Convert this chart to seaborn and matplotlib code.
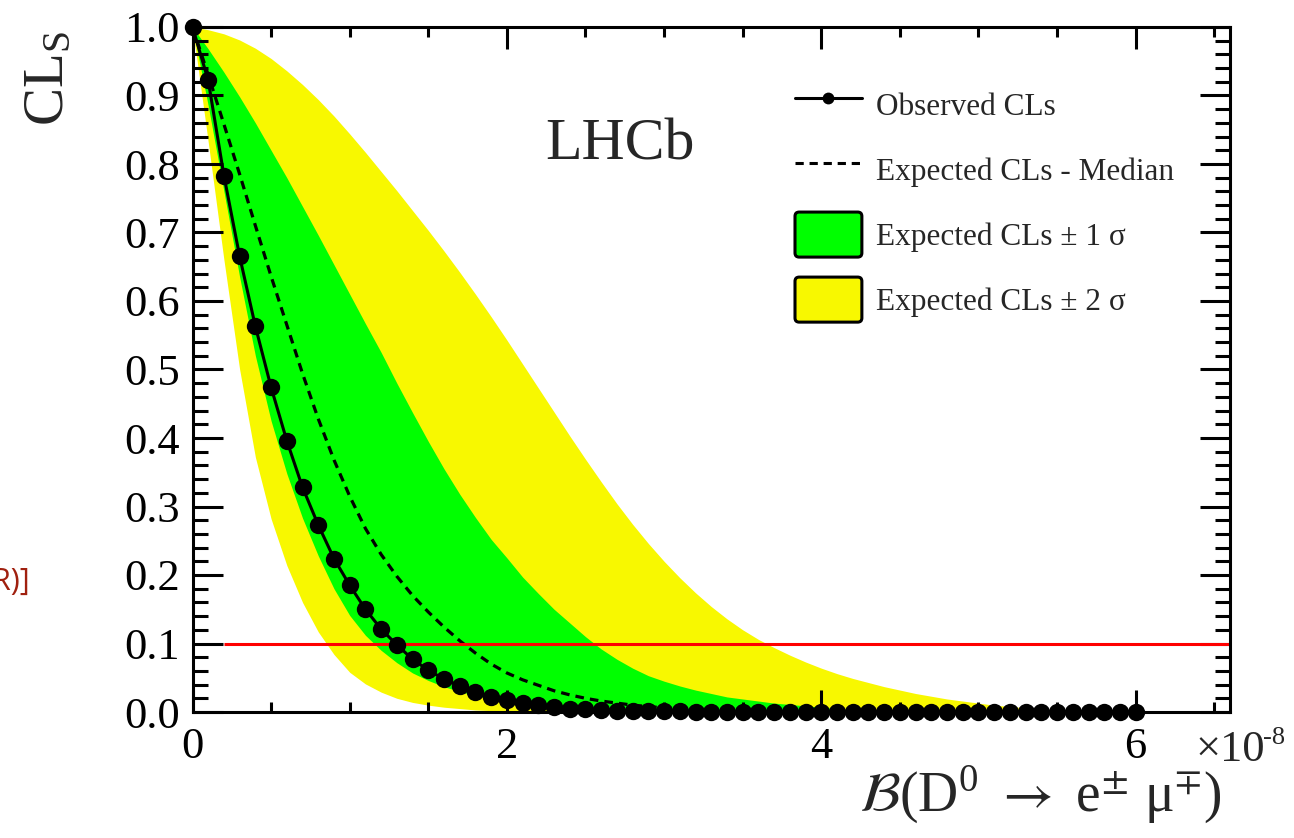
import numpy as np
import pandas as pd
import matplotlib
matplotlib.use("Agg")
import matplotlib.pyplot as plt
import seaborn as sns
from matplotlib.lines import Line2D
from matplotlib.patches import Patch, FancyBboxPatch
from matplotlib.legend_handler import HandlerPatch

# Branching-fraction scan points (units of 1e-8)
br_points = np.round(np.arange(0.0, 6.01, 0.1), 1)

cls_observed = [
    1.000, 0.922, 0.783, 0.665, 0.563, 0.474, 0.396, 0.328, 0.273, 0.224,
    0.185, 0.150, 0.121, 0.098, 0.077, 0.061, 0.048, 0.038, 0.029, 0.022,
    0.017, 0.013, 0.010, 0.007, 0.005, 0.004, 0.003, 0.002, 0.002, 0.001,
    0.001, 0.001, 0.000, 0.000, 0.000, 0.000, 0.000, 0.000, 0.000, 0.000,
    0.000, 0.000, 0.000, 0.000, 0.000, 0.000, 0.000, 0.000, 0.000, 0.000,
    0.000, 0.000, 0.000, 0.000, 0.000, 0.000, 0.000, 0.000, 0.000, 0.000,
    0.000,
]

cls_exp_median = [
    1.000, 0.930, 0.858, 0.785, 0.710, 0.636, 0.565, 0.494, 0.428, 0.368,
    0.315, 0.268, 0.230, 0.198, 0.170, 0.146, 0.124, 0.104, 0.086, 0.070,
    0.057, 0.047, 0.039, 0.031, 0.025, 0.020, 0.016, 0.013, 0.010, 0.008,
    0.006, 0.005, 0.004, 0.003, 0.002, 0.001, 0.000, 0.000, 0.000, 0.000,
    0.000, 0.000, 0.000, 0.000, 0.000, 0.000, 0.000, 0.000, 0.000, 0.000,
    0.000, 0.000, 0.000, 0.000, 0.000, 0.000, 0.000, 0.000, 0.000, 0.000,
    0.000,
]

cls_exp_minus1 = [
    1.000, 0.885, 0.760, 0.635, 0.520, 0.425, 0.348, 0.283, 0.228, 0.180,
    0.141, 0.112, 0.090, 0.072, 0.057, 0.046, 0.037, 0.030, 0.024, 0.019,
    0.015, 0.012, 0.009, 0.007, 0.005, 0.004, 0.003, 0.002, 0.001, 0.001,
    0.000, 0.000, 0.000, 0.000, 0.000, 0.000, 0.000, 0.000, 0.000, 0.000,
    0.000, 0.000, 0.000, 0.000, 0.000, 0.000, 0.000, 0.000, 0.000, 0.000,
    0.000, 0.000, 0.000, 0.000, 0.000, 0.000, 0.000, 0.000, 0.000, 0.000,
    0.000,
]

cls_exp_plus1 = [
    1.000, 0.968, 0.934, 0.898, 0.860, 0.820, 0.780, 0.738, 0.696, 0.653,
    0.610, 0.567, 0.525, 0.480, 0.437, 0.395, 0.355, 0.318, 0.284, 0.252,
    0.225, 0.197, 0.173, 0.150, 0.130, 0.110, 0.092, 0.077, 0.064, 0.053,
    0.045, 0.038, 0.032, 0.027, 0.022, 0.019, 0.016, 0.013, 0.011, 0.009,
    0.007, 0.005, 0.004, 0.003, 0.002, 0.001, 0.000, 0.000, 0.000, 0.000,
    0.000, 0.000, 0.000, 0.000, 0.000, 0.000, 0.000, 0.000, 0.000, 0.000,
    0.000,
]

cls_exp_minus2 = [
    1.000, 0.832, 0.660, 0.500, 0.372, 0.282, 0.214, 0.160, 0.117, 0.084,
    0.058, 0.041, 0.029, 0.020, 0.014, 0.010, 0.007, 0.005, 0.003, 0.002,
    0.001, 0.001, 0.000, 0.000, 0.000, 0.000, 0.000, 0.000, 0.000, 0.000,
    0.000, 0.000, 0.000, 0.000, 0.000, 0.000, 0.000, 0.000, 0.000, 0.000,
    0.000, 0.000, 0.000, 0.000, 0.000, 0.000, 0.000, 0.000, 0.000, 0.000,
    0.000, 0.000, 0.000, 0.000, 0.000, 0.000, 0.000, 0.000, 0.000, 0.000,
    0.000,
]

cls_exp_plus2 = [
    1.000, 0.996, 0.990, 0.981, 0.969, 0.954, 0.936, 0.916, 0.894, 0.870,
    0.844, 0.817, 0.789, 0.761, 0.732, 0.703, 0.673, 0.642, 0.610, 0.577,
    0.543, 0.508, 0.473, 0.438, 0.403, 0.369, 0.336, 0.304, 0.274, 0.246,
    0.220, 0.196, 0.174, 0.154, 0.136, 0.120, 0.106, 0.094, 0.083, 0.073,
    0.064, 0.056, 0.049, 0.043, 0.037, 0.032, 0.027, 0.023, 0.019, 0.016,
    0.013, 0.010, 0.008, 0.006, 0.004, 0.003, 0.002, 0.001, 0.001, 0.000,
    0.000,
]

cl_threshold = 0.1
threshold_start = 0.2
x_tick_values = [0, 2, 4, 6]
x_tick_labels = ["0", "2", "4", "6"]
y_tick_values = [0.0, 0.1, 0.2, 0.3, 0.4, 0.5, 0.6, 0.7, 0.8, 0.9, 1.0]
y_tick_labels = ["0.0", "0.1", "0.2", "0.3", "0.4", "0.5", "0.6", "0.7", "0.8", "0.9", "1.0"]

df = pd.DataFrame({
    "br": br_points,
    "observed": cls_observed,
    "median": cls_exp_median,
    "m1": cls_exp_minus1,
    "p1": cls_exp_plus1,
    "m2": cls_exp_minus2,
    "p2": cls_exp_plus2,
})

sns.set_theme(style="ticks")
plt.rcParams["font.family"] = ["Liberation Serif", "DejaVu Serif"]
plt.rcParams["mathtext.fontset"] = "stix"

GREEN = "#00FF00"
YELLOW = "#F8F800"
X_MAX = 6.6

W, H = 1294, 838
fig = plt.figure(figsize=(W / 100, H / 100), dpi=100, facecolor="white")
ax = fig.add_axes([192.5 / W, 1 - 712 / H, (1230 - 192.5) / W, (712 - 27) / H])
ax.set_facecolor("white")

# expected bands
ax.fill_between(df["br"], df["m2"], df["p2"], color=YELLOW, lw=0, zorder=1)
ax.fill_between(df["br"], df["m1"], df["p1"], color=GREEN, lw=0, zorder=1.1)

# expected median and observed curves
sns.lineplot(data=df, x="br", y="median", ax=ax, color="black", lw=2.3,
             linestyle=(0, (2.7, 1.9)), zorder=2.2)

# 90% CL threshold
ax.hlines(cl_threshold, threshold_start, X_MAX, color="#FF0000", lw=2.2, zorder=2.6)

sns.lineplot(data=df, x="br", y="observed", ax=ax, color="black", lw=2.2,
             marker="o", markersize=12.5, markeredgecolor="black",
             markeredgewidth=0, zorder=4)
ax.lines[-1].set_clip_on(False)

ax.set_xlim(0, X_MAX)
ax.set_ylim(0, 1.0)
ax.set_axisbelow(False)
ax.set_xticks(x_tick_values)
ax.set_xticklabels(x_tick_labels)
ax.set_yticks(y_tick_values)
ax.set_yticklabels(y_tick_labels)
ax.set_xticks(np.arange(0, X_MAX, 0.5), minor=True)
ax.set_yticks(np.arange(0, 1.001, 0.02), minor=True)
ax.set_xlabel("")
ax.set_ylabel("")

for sp in ax.spines.values():
    sp.set_linewidth(2.2)
    sp.set_color("black")
    sp.set_visible(True)
    sp.set_zorder(3)

ax.tick_params(which="both", direction="in", top=True, right=True,
               width=2.2, color="black", labelsize=32, labelcolor="black")
ax.tick_params(axis="y", which="major", length=21.6, pad=9)
ax.tick_params(axis="y", which="minor", length=10.8)
ax.tick_params(axis="x", which="major", length=16, pad=11)
ax.tick_params(axis="x", which="minor", length=7.2)

# axis titles
fig.text(1195 / W, 1 - 761 / H, "×10", fontsize=32, ha="left", va="baseline")
fig.text(1263 / W, 1 - 744 / H, "-8", fontsize=19, ha="left", va="baseline")
fig.text(1222 / W, 1 - 812 / H,
         r"$\mathcal{B}$(D$^{\mathregular{0}}$ $\rightarrow$ e$^{\pm}$ μ$^{\mp}$)",
         fontsize=40, ha="right", va="baseline")
fig.text(48 / W, 1 - 31 / H, "CL$_{\\mathregular{S}}$", fontsize=41,
         rotation=90, ha="center", va="top")

fig.text(545 / W, 1 - 160 / H, "LHCb", fontsize=43, ha="left", va="baseline")

fig.text(30 / W, 1 - 582 / H, "R)]", fontsize=22, color="#A0200F",
         family=["Open Sans", "DejaVu Sans"], ha="right", va="center")


def rounded_box(legend, orig_handle, xdescent, ydescent, width, height, fontsize):
    return FancyBboxPatch((-xdescent, -ydescent), width, height,
                          boxstyle="round,pad=0,rounding_size=3")


handles = [
    Line2D([], [], color="black", lw=2.2, marker="o", markersize=8.5,
           markeredgewidth=0, label="Observed CLs"),
    Line2D([], [], color="black", lw=2.2, linestyle=(0, (2.7, 1.9)),
           label="Expected CLs - Median"),
    Patch(facecolor=GREEN, edgecolor="black", lw=2.2, label="Expected CLs ± 1 σ"),
    Patch(facecolor=YELLOW, edgecolor="black", lw=2.2, label="Expected CLs ± 2 σ"),
]
ax.legend(handles=handles, loc="upper left", bbox_to_anchor=(795 / W, 1 - 82 / H),
          bbox_transform=fig.transFigure, frameon=False, fontsize=22.5,
          handlelength=2.14, handleheight=1.84, labelspacing=0.64,
          handletextpad=0.45, borderpad=0, borderaxespad=0,
          handler_map={Patch: HandlerPatch(patch_func=rounded_box)})

fig.savefig("out.png", dpi=100, facecolor="white")
